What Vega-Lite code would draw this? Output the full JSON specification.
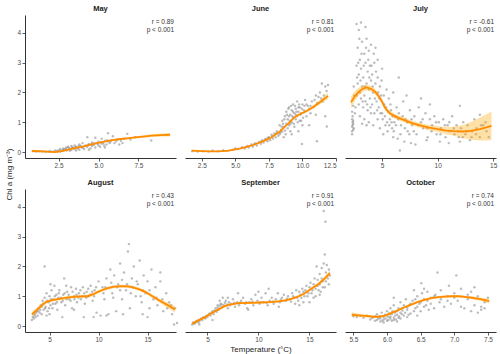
{
"$schema":"https://vega.github.io/schema/vega-lite/v6.json",
"padding":{"left":5,"top":4,"right":3,"bottom":2},
"bounds":"flush",
"columns":3,
"spacing":{"column":9,"row":31},
"config":{"view":{"stroke":null},"font":"Liberation Sans",
"axis":{"grid":false,"domainColor":"#333333","domainWidth":1,"tickColor":"#333333","tickSize":3,"tickWidth":0.8,"labelFontSize":6.5,"labelColor":"#4d4d4d","labelPadding":1.5,"titleFontSize":8,"titleFontWeight":"normal","titleColor":"#222222"},
"title":{"fontSize":7.5,"fontWeight":"bold","color":"#222222","offset":3},
"circle":{"size":6,"color":"#7a7a7a","opacity":0.5},
"line":{"color":"#ff8c00","strokeWidth":1.8},
"area":{"color":"#ffa500","opacity":0.35},
"text":{"fontSize":6.5,"color":"#333333","align":"right","dx":-2}},
"datasets":{
"mayP":[{"x":0.9,"y":0.03},{"x":1.1,"y":0.02},{"x":1.3,"y":0.03},{"x":1.5,"y":0.02},{"x":1.7,"y":0.01},{"x":1.9,"y":0.02},{"x":2.0,"y":0.03},{"x":2.2,"y":0.02},{"x":2.3,"y":0.05},{"x":2.4,"y":0.03},{"x":2.5,"y":0.06},{"x":2.6,"y":0.1},{"x":2.7,"y":0.04},{"x":2.8,"y":0.12},{"x":2.9,"y":0.08},{"x":3.0,"y":0.15},{"x":3.0,"y":0.05},{"x":3.1,"y":0.18},{"x":3.2,"y":0.1},{"x":3.3,"y":0.2},{"x":3.3,"y":0.07},{"x":3.4,"y":0.14},{"x":3.5,"y":0.22},{"x":3.5,"y":0.1},{"x":2.6,"y":0.02},{"x":2.8,"y":0.05},{"x":3.2,"y":0.04},{"x":3.6,"y":0.18},{"x":3.7,"y":0.12},{"x":3.8,"y":0.25},{"x":3.8,"y":0.08},{"x":3.9,"y":0.2},{"x":4.0,"y":0.3},{"x":4.0,"y":0.14},{"x":4.1,"y":0.1},{"x":4.2,"y":0.22},{"x":4.3,"y":0.5},{"x":4.3,"y":0.17},{"x":4.4,"y":0.27},{"x":4.5,"y":0.12},{"x":4.6,"y":0.32},{"x":4.6,"y":0.2},{"x":4.7,"y":0.24},{"x":4.8,"y":0.48},{"x":4.8,"y":0.15},{"x":4.9,"y":0.3},{"x":5.0,"y":0.22},{"x":5.0,"y":0.35},{"x":5.1,"y":0.18},{"x":5.2,"y":0.28},{"x":5.2,"y":0.45},{"x":5.3,"y":0.3},{"x":5.4,"y":0.38},{"x":5.5,"y":0.25},{"x":5.6,"y":0.63},{"x":5.6,"y":0.35},{"x":5.7,"y":0.3},{"x":5.8,"y":0.4},{"x":5.9,"y":0.53},{"x":6.0,"y":0.3},{"x":6.1,"y":0.36},{"x":6.2,"y":0.42},{"x":6.3,"y":0.25},{"x":6.4,"y":0.38},{"x":6.6,"y":0.45},{"x":6.8,"y":0.61},{"x":7.0,"y":0.42},{"x":8.3,"y":0.39},{"x":3.6,"y":0.05},{"x":4.4,"y":0.08},{"x":5.4,"y":0.15},{"x":2.75,"y":0.08},{"x":2.95,"y":0.12},{"x":3.15,"y":0.14},{"x":3.35,"y":0.16},{"x":3.55,"y":0.15},{"x":3.75,"y":0.2},{"x":3.95,"y":0.16},{"x":4.15,"y":0.2},{"x":4.35,"y":0.24},{"x":4.55,"y":0.26},{"x":4.75,"y":0.3},{"x":4.95,"y":0.28},{"x":5.15,"y":0.33},{"x":5.35,"y":0.22},{"x":5.55,"y":0.4},{"x":5.75,"y":0.35},{"x":6.5,"y":0.3},{"x":7.3,"y":0.5}],
"mayF":[{"x":0.83,"y":0.035,"lo":0.0,"hi":0.075},{"x":1.5,"y":0.02,"lo":-0.01,"hi":0.05},{"x":2.28,"y":0.0,"lo":-0.025,"hi":0.025},{"x":2.7,"y":0.03,"lo":0.005,"hi":0.055},{"x":3.11,"y":0.08,"lo":0.06,"hi":0.1},{"x":3.6,"y":0.14,"lo":0.12,"hi":0.16},{"x":4.15,"y":0.2,"lo":0.18,"hi":0.22},{"x":4.7,"y":0.27,"lo":0.25,"hi":0.29},{"x":5.2,"y":0.33,"lo":0.31,"hi":0.35},{"x":5.7,"y":0.38,"lo":0.355,"hi":0.405},{"x":6.24,"y":0.43,"lo":0.4,"hi":0.46},{"x":6.8,"y":0.46,"lo":0.43,"hi":0.49},{"x":7.29,"y":0.49,"lo":0.455,"hi":0.525},{"x":7.8,"y":0.52,"lo":0.48,"hi":0.56},{"x":8.33,"y":0.55,"lo":0.505,"hi":0.595},{"x":8.9,"y":0.57,"lo":0.52,"hi":0.62},{"x":9.48,"y":0.58,"lo":0.52,"hi":0.64}],
"junP":[{"x":1.8,"y":0.03},{"x":2.2,"y":0.02},{"x":2.6,"y":0.03},{"x":3.0,"y":0.02},{"x":3.3,"y":0.05},{"x":3.7,"y":0.03},{"x":4.1,"y":0.06},{"x":4.4,"y":0.04},{"x":4.8,"y":0.08},{"x":5.0,"y":0.13},{"x":5.2,"y":0.1},{"x":5.5,"y":0.16},{"x":5.7,"y":0.12},{"x":5.9,"y":0.2},{"x":6.0,"y":0.15},{"x":6.2,"y":0.25},{"x":6.3,"y":0.18},{"x":6.5,"y":0.3},{"x":6.6,"y":0.22},{"x":6.8,"y":0.35},{"x":6.9,"y":0.28},{"x":7.0,"y":0.4},{"x":7.1,"y":0.32},{"x":7.3,"y":0.45},{"x":7.4,"y":0.36},{"x":7.5,"y":0.5},{"x":7.6,"y":0.4},{"x":7.7,"y":0.58},{"x":7.8,"y":0.45},{"x":7.9,"y":0.62},{"x":8.0,"y":0.5},{"x":8.1,"y":0.7},{"x":8.2,"y":0.55},{"x":8.3,"y":0.9},{"x":8.3,"y":0.6},{"x":8.4,"y":0.75},{"x":8.5,"y":1.05},{"x":8.5,"y":0.68},{"x":8.6,"y":0.85},{"x":8.7,"y":1.2},{"x":8.7,"y":0.72},{"x":8.8,"y":0.95},{"x":8.8,"y":1.35},{"x":8.9,"y":0.8},{"x":8.9,"y":1.1},{"x":9.0,"y":1.5},{"x":9.0,"y":0.9},{"x":9.1,"y":1.25},{"x":9.1,"y":0.7},{"x":9.2,"y":1.4},{"x":9.2,"y":1.0},{"x":9.3,"y":1.6},{"x":9.3,"y":1.15},{"x":9.4,"y":1.3},{"x":9.4,"y":0.85},{"x":9.5,"y":1.45},{"x":9.5,"y":1.1},{"x":9.6,"y":1.7},{"x":9.6,"y":1.2},{"x":9.7,"y":1.35},{"x":9.8,"y":1.5},{"x":9.8,"y":1.05},{"x":9.9,"y":1.3},{"x":10.0,"y":1.6},{"x":10.0,"y":0.9},{"x":10.1,"y":1.4},{"x":10.2,"y":1.75},{"x":10.3,"y":1.2},{"x":10.4,"y":1.55},{"x":10.5,"y":1.45},{"x":10.6,"y":1.3},{"x":10.7,"y":1.7},{"x":10.8,"y":1.5},{"x":11.0,"y":1.9},{"x":11.1,"y":1.65},{"x":11.3,"y":2.0},{"x":11.4,"y":1.8},{"x":11.45,"y":2.3},{"x":11.6,"y":1.9},{"x":11.7,"y":2.2},{"x":11.9,"y":2.25},{"x":11.8,"y":2.05},{"x":11.0,"y":1.25},{"x":10.5,"y":0.9},{"x":9.96,"y":0.27},{"x":11.08,"y":0.36},{"x":11.82,"y":0.86},{"x":11.7,"y":1.2},{"x":9.2,"y":0.6},{"x":8.6,"y":0.5},{"x":9.7,"y":0.7},{"x":8.55,"y":0.95},{"x":8.65,"y":1.1},{"x":8.75,"y":0.6},{"x":8.85,"y":1.25},{"x":8.95,"y":1.45},{"x":9.05,"y":1.05},{"x":9.15,"y":1.55},{"x":9.25,"y":1.2},{"x":9.35,"y":0.95},{"x":9.45,"y":1.55},{"x":9.55,"y":1.35},{"x":9.65,"y":1.0},{"x":9.75,"y":1.6},{"x":9.85,"y":1.25},{"x":9.95,"y":1.45},{"x":10.05,"y":1.15},{"x":10.15,"y":1.55},{"x":8.45,"y":0.85},{"x":8.35,"y":0.65},{"x":9.0,"y":1.2},{"x":9.1,"y":0.95},{"x":9.3,"y":1.35},{"x":9.5,"y":1.25},{"x":9.7,"y":1.5},{"x":9.9,"y":1.05},{"x":10.3,"y":1.6},{"x":10.6,"y":1.55},{"x":10.9,"y":1.75},{"x":11.2,"y":1.85},{"x":11.5,"y":1.7},{"x":7.2,"y":0.42},{"x":7.45,"y":0.48},{"x":7.75,"y":0.52},{"x":8.05,"y":0.62},{"x":6.4,"y":0.26},{"x":5.8,"y":0.17}],
"junF":[{"x":1.75,"y":0.05,"lo":0.02,"hi":0.08},{"x":2.5,"y":0.03,"lo":0.005,"hi":0.055},{"x":3.0,"y":0.02,"lo":0.0,"hi":0.04},{"x":3.74,"y":0.02,"lo":0.0,"hi":0.04},{"x":4.5,"y":0.05,"lo":0.03,"hi":0.07},{"x":5.23,"y":0.11,"lo":0.09,"hi":0.13},{"x":5.7,"y":0.16,"lo":0.14,"hi":0.18},{"x":6.22,"y":0.22,"lo":0.2,"hi":0.24},{"x":6.7,"y":0.3,"lo":0.28,"hi":0.32},{"x":7.22,"y":0.39,"lo":0.37,"hi":0.41},{"x":7.6,"y":0.47,"lo":0.45,"hi":0.49},{"x":7.97,"y":0.58,"lo":0.555,"hi":0.605},{"x":8.35,"y":0.7,"lo":0.67,"hi":0.73},{"x":8.71,"y":0.86,"lo":0.83,"hi":0.89},{"x":9.0,"y":0.98,"lo":0.95,"hi":1.01},{"x":9.21,"y":1.08,"lo":1.05,"hi":1.11},{"x":9.45,"y":1.18,"lo":1.15,"hi":1.21},{"x":9.71,"y":1.25,"lo":1.22,"hi":1.28},{"x":10.1,"y":1.33,"lo":1.29,"hi":1.37},{"x":10.45,"y":1.41,"lo":1.36,"hi":1.46},{"x":10.8,"y":1.51,"lo":1.45,"hi":1.57},{"x":11.2,"y":1.64,"lo":1.57,"hi":1.71},{"x":11.55,"y":1.76,"lo":1.67,"hi":1.85},{"x":11.9,"y":1.88,"lo":1.77,"hi":1.99}],
"julP":[{"x":2.3,"y":0.7},{"x":2.3,"y":0.85},{"x":2.35,"y":1.0},{"x":2.3,"y":1.1},{"x":2.4,"y":0.75},{"x":2.4,"y":0.95},{"x":2.35,"y":1.2},{"x":2.45,"y":0.8},{"x":2.3,"y":1.35},{"x":2.4,"y":1.55},{"x":2.5,"y":1.9},{"x":2.45,"y":2.2},{"x":2.7,"y":4.3},{"x":2.9,"y":4.1},{"x":3.1,"y":4.35},{"x":3.5,"y":4.2},{"x":2.8,"y":3.5},{"x":3.0,"y":3.1},{"x":3.2,"y":3.7},{"x":3.4,"y":3.3},{"x":3.6,"y":3.8},{"x":3.8,"y":3.4},{"x":4.0,"y":3.6},{"x":2.7,"y":2.9},{"x":2.9,"y":2.6},{"x":3.1,"y":2.8},{"x":3.3,"y":2.5},{"x":3.5,"y":3.0},{"x":3.7,"y":2.7},{"x":3.9,"y":2.9},{"x":4.1,"y":2.6},{"x":4.3,"y":3.0},{"x":4.6,"y":3.1},{"x":2.8,"y":2.3},{"x":3.0,"y":2.0},{"x":3.2,"y":2.2},{"x":3.4,"y":1.9},{"x":3.6,"y":2.3},{"x":3.8,"y":2.1},{"x":4.0,"y":2.4},{"x":4.2,"y":2.0},{"x":4.4,"y":2.3},{"x":4.6,"y":2.5},{"x":4.8,"y":2.2},{"x":2.9,"y":1.6},{"x":3.1,"y":1.8},{"x":3.3,"y":1.5},{"x":3.5,"y":1.7},{"x":3.7,"y":1.4},{"x":3.9,"y":1.8},{"x":4.1,"y":1.6},{"x":4.3,"y":1.3},{"x":4.5,"y":1.7},{"x":4.7,"y":1.5},{"x":4.9,"y":1.9},{"x":3.0,"y":1.2},{"x":3.4,"y":1.1},{"x":3.8,"y":1.0},{"x":4.2,"y":0.9},{"x":4.6,"y":1.1},{"x":5.0,"y":1.3},{"x":5.2,"y":1.6},{"x":5.4,"y":2.1},{"x":5.6,"y":1.8},{"x":5.8,"y":1.4},{"x":6.0,"y":2.0},{"x":6.2,"y":1.2},{"x":5.3,"y":0.9},{"x":5.5,"y":0.7},{"x":5.7,"y":1.1},{"x":5.9,"y":0.8},{"x":6.1,"y":1.0},{"x":6.3,"y":1.5},{"x":6.5,"y":1.3},{"x":6.7,"y":0.9},{"x":6.9,"y":1.7},{"x":7.1,"y":1.1},{"x":7.3,"y":0.7},{"x":7.5,"y":1.4},{"x":7.7,"y":0.9},{"x":7.9,"y":1.2},{"x":8.1,"y":0.6},{"x":8.3,"y":1.5},{"x":8.5,"y":1.0},{"x":8.7,"y":0.8},{"x":8.9,"y":1.3},{"x":9.1,"y":0.5},{"x":9.3,"y":1.1},{"x":9.5,"y":0.9},{"x":9.7,"y":1.2},{"x":9.9,"y":0.6},{"x":10.1,"y":1.0},{"x":10.3,"y":0.8},{"x":10.5,"y":1.1},{"x":10.7,"y":0.5},{"x":10.9,"y":0.9},{"x":11.1,"y":0.7},{"x":11.3,"y":1.2},{"x":11.5,"y":0.6},{"x":11.7,"y":0.9},{"x":11.9,"y":0.5},{"x":12.1,"y":0.8},{"x":12.3,"y":1.0},{"x":12.5,"y":0.6},{"x":12.7,"y":0.9},{"x":12.9,"y":0.4},{"x":13.1,"y":0.7},{"x":13.3,"y":1.1},{"x":13.5,"y":0.8},{"x":13.8,"y":0.5},{"x":14.1,"y":0.9},{"x":14.4,"y":0.7},{"x":6.4,"y":0.45},{"x":7.0,"y":0.35},{"x":7.6,"y":0.3},{"x":6.6,"y":0.05},{"x":8.0,"y":0.25},{"x":9.0,"y":0.4},{"x":10.2,"y":0.35},{"x":11.0,"y":0.3},{"x":12.0,"y":0.35},{"x":6.5,"y":2.5},{"x":7.2,"y":1.9},{"x":5.0,"y":2.8},{"x":4.4,"y":3.5},{"x":8.5,"y":1.8},{"x":9.3,"y":1.6},{"x":12.0,"y":1.55},{"x":13.8,"y":1.25},{"x":3.6,"y":0.9},{"x":4.0,"y":1.3},{"x":5.1,"y":0.6},{"x":2.6,"y":1.5},{"x":2.7,"y":1.9},{"x":2.75,"y":2.5},{"x":2.85,"y":3.0},{"x":2.95,"y":3.8},{"x":3.05,"y":2.4},{"x":3.15,"y":3.3},{"x":3.25,"y":1.7},{"x":3.35,"y":2.9},{"x":3.45,"y":2.2},{"x":3.55,"y":3.5},{"x":3.65,"y":1.6},{"x":3.75,"y":3.1},{"x":3.85,"y":2.5},{"x":3.95,"y":1.5},{"x":4.05,"y":2.9},{"x":4.15,"y":2.2},{"x":4.25,"y":3.3},{"x":4.35,"y":1.8},{"x":4.45,"y":2.7},{"x":4.55,"y":1.4},{"x":4.65,"y":2.0},{"x":4.75,"y":1.8},{"x":4.85,"y":1.3},{"x":4.95,"y":2.4},{"x":5.05,"y":1.1},{"x":5.15,"y":1.9},{"x":5.25,"y":1.2},{"x":5.35,"y":1.5},{"x":5.45,"y":1.0},{"x":5.55,"y":1.35},{"x":5.65,"y":0.9},{"x":5.75,"y":1.6},{"x":5.85,"y":1.0},{"x":5.95,"y":1.2},{"x":6.05,"y":0.7},{"x":6.25,"y":0.9},{"x":6.45,"y":1.1},{"x":6.65,"y":0.6},{"x":6.85,"y":1.2},{"x":7.05,"y":0.8},{"x":7.25,"y":1.0},{"x":7.45,"y":0.6},{"x":7.65,"y":1.1},{"x":7.85,"y":0.7},{"x":8.25,"y":0.9},{"x":8.65,"y":1.1},{"x":9.05,"y":0.8},{"x":9.45,"y":0.7},{"x":9.85,"y":1.0},{"x":10.25,"y":0.6},{"x":10.65,"y":0.9},{"x":11.05,"y":1.0},{"x":11.45,"y":0.8},{"x":11.85,"y":0.7},{"x":12.25,"y":0.5},{"x":12.65,"y":0.7},{"x":13.05,"y":0.5},{"x":13.45,"y":0.6},{"x":13.9,"y":0.9},{"x":14.3,"y":1.0},{"x":14.6,"y":0.5},{"x":2.35,"y":0.9},{"x":2.4,"y":1.05},{"x":2.3,"y":0.6},{"x":2.55,"y":1.3},{"x":3.2,"y":0.95},{"x":4.8,"y":0.8},{"x":6.0,"y":0.5}],
"julF":[{"x":2.2,"y":1.67,"lo":1.47,"hi":1.87},{"x":2.5,"y":1.85,"lo":1.68,"hi":2.02},{"x":2.9,"y":2.03,"lo":1.9,"hi":2.16},{"x":3.3,"y":2.13,"lo":2.02,"hi":2.24},{"x":3.63,"y":2.17,"lo":2.07,"hi":2.27},{"x":4.0,"y":2.12,"lo":2.02,"hi":2.22},{"x":4.39,"y":2.02,"lo":1.92,"hi":2.12},{"x":4.7,"y":1.87,"lo":1.78,"hi":1.96},{"x":5.0,"y":1.69,"lo":1.6,"hi":1.78},{"x":5.2,"y":1.53,"lo":1.45,"hi":1.61},{"x":5.36,"y":1.44,"lo":1.36,"hi":1.52},{"x":5.7,"y":1.3,"lo":1.22,"hi":1.38},{"x":6.2,"y":1.19,"lo":1.11,"hi":1.27},{"x":7.0,"y":1.07,"lo":0.99,"hi":1.15},{"x":7.7,"y":0.97,"lo":0.89,"hi":1.05},{"x":8.5,"y":0.89,"lo":0.81,"hi":0.97},{"x":9.24,"y":0.82,"lo":0.73,"hi":0.91},{"x":10.0,"y":0.77,"lo":0.67,"hi":0.87},{"x":10.75,"y":0.72,"lo":0.6,"hi":0.84},{"x":11.5,"y":0.7,"lo":0.55,"hi":0.85},{"x":12.27,"y":0.69,"lo":0.47,"hi":0.91},{"x":13.0,"y":0.71,"lo":0.41,"hi":1.01},{"x":13.78,"y":0.77,"lo":0.39,"hi":1.15},{"x":14.3,"y":0.82,"lo":0.39,"hi":1.25},{"x":14.84,"y":0.88,"lo":0.4,"hi":1.36}],
"augP":[{"x":3.2,"y":0.2},{"x":3.3,"y":0.3},{"x":3.4,"y":0.25},{"x":3.5,"y":0.4},{"x":3.6,"y":0.3},{"x":3.7,"y":0.5},{"x":3.8,"y":0.35},{"x":3.9,"y":0.6},{"x":4.0,"y":0.45},{"x":4.1,"y":0.7},{"x":4.2,"y":0.4},{"x":4.3,"y":0.85},{"x":4.4,"y":0.55},{"x":4.5,"y":0.95},{"x":4.5,"y":2.0},{"x":4.6,"y":0.65},{"x":4.7,"y":1.1},{"x":4.8,"y":0.5},{"x":4.9,"y":0.8},{"x":5.0,"y":1.0},{"x":5.1,"y":0.7},{"x":5.2,"y":1.2},{"x":5.3,"y":0.6},{"x":5.4,"y":0.9},{"x":5.5,"y":1.35},{"x":5.6,"y":0.75},{"x":5.7,"y":1.05},{"x":5.8,"y":0.55},{"x":5.9,"y":0.95},{"x":6.0,"y":1.2},{"x":6.2,"y":0.8},{"x":6.4,"y":1.05},{"x":6.5,"y":1.6},{"x":6.6,"y":0.7},{"x":6.8,"y":1.15},{"x":7.0,"y":0.9},{"x":7.2,"y":1.3},{"x":7.3,"y":0.6},{"x":7.5,"y":1.0},{"x":7.7,"y":1.25},{"x":7.8,"y":0.8},{"x":8.0,"y":1.1},{"x":8.2,"y":0.9},{"x":8.4,"y":1.3},{"x":8.6,"y":0.75},{"x":8.8,"y":1.15},{"x":9.0,"y":1.0},{"x":9.2,"y":1.35},{"x":9.4,"y":0.85},{"x":9.6,"y":1.2},{"x":9.8,"y":0.45},{"x":10.0,"y":1.5},{"x":10.2,"y":0.35},{"x":10.4,"y":1.3},{"x":10.6,"y":0.9},{"x":10.8,"y":1.6},{"x":11.0,"y":0.4},{"x":11.2,"y":1.9},{"x":11.4,"y":1.1},{"x":11.6,"y":1.7},{"x":11.8,"y":0.5},{"x":12.0,"y":1.4},{"x":12.2,"y":2.1},{"x":12.4,"y":0.9},{"x":12.6,"y":1.8},{"x":12.8,"y":1.2},{"x":13.0,"y":2.5},{"x":13.1,"y":2.75},{"x":13.2,"y":0.6},{"x":13.4,"y":1.6},{"x":13.6,"y":2.0},{"x":13.8,"y":1.0},{"x":14.0,"y":1.4},{"x":14.2,"y":2.2},{"x":14.4,"y":0.8},{"x":14.6,"y":1.7},{"x":14.8,"y":1.1},{"x":15.0,"y":1.5},{"x":15.2,"y":0.6},{"x":15.4,"y":1.9},{"x":15.6,"y":0.9},{"x":15.8,"y":1.3},{"x":16.0,"y":0.7},{"x":16.3,"y":1.5},{"x":16.6,"y":0.5},{"x":16.9,"y":1.1},{"x":17.2,"y":0.8},{"x":17.5,"y":0.4},{"x":17.8,"y":0.6},{"x":18.0,"y":0.1},{"x":17.7,"y":0.05},{"x":9.5,"y":0.3},{"x":8.5,"y":0.3},{"x":10.8,"y":0.35},{"x":12.5,"y":0.4},{"x":14.5,"y":0.4},{"x":6.3,"y":0.3},{"x":4.7,"y":0.35},{"x":5.0,"y":0.4},{"x":7.5,"y":0.55},{"x":15.0,"y":0.3},{"x":16.3,"y":1.8},{"x":11.5,"y":0.95},{"x":12.2,"y":1.2},{"x":13.5,"y":1.3},{"x":14.5,"y":1.2},{"x":10.5,"y":1.1},{"x":4.2,"y":0.65},{"x":4.35,"y":0.75},{"x":4.55,"y":0.6},{"x":4.75,"y":0.85},{"x":4.95,"y":0.6},{"x":5.15,"y":0.9},{"x":5.35,"y":0.75},{"x":5.55,"y":1.0},{"x":5.75,"y":0.8},{"x":5.95,"y":1.1},{"x":6.15,"y":0.95},{"x":6.35,"y":0.85},{"x":6.55,"y":1.1},{"x":6.75,"y":0.9},{"x":6.95,"y":1.05},{"x":7.15,"y":0.85},{"x":7.35,"y":1.15},{"x":7.55,"y":0.9},{"x":7.75,"y":1.05},{"x":7.95,"y":0.95},{"x":8.15,"y":1.2},{"x":8.35,"y":1.0},{"x":8.55,"y":1.1},{"x":8.75,"y":0.95},{"x":8.95,"y":1.25},{"x":9.15,"y":1.05},{"x":9.35,"y":1.15},{"x":9.55,"y":1.0},{"x":9.75,"y":1.3},{"x":3.45,"y":0.35},{"x":3.65,"y":0.45},{"x":3.85,"y":0.5},{"x":4.05,"y":0.55},{"x":10.7,"y":1.3},{"x":11.3,"y":1.45},{"x":11.9,"y":1.3},{"x":12.4,"y":1.55},{"x":12.9,"y":1.4},{"x":13.3,"y":1.1},{"x":13.9,"y":1.5},{"x":14.3,"y":1.0},{"x":15.2,"y":1.2},{"x":15.9,"y":0.95},{"x":16.5,"y":0.9},{"x":17.0,"y":0.6},{"x":17.4,"y":0.7},{"x":5.1,"y":1.4},{"x":6.7,"y":1.35}],
"augF":[{"x":3.2,"y":0.39,"lo":0.3,"hi":0.48},{"x":3.9,"y":0.6,"lo":0.53,"hi":0.67},{"x":4.6,"y":0.8,"lo":0.74,"hi":0.86},{"x":5.3,"y":0.87,"lo":0.82,"hi":0.92},{"x":6.02,"y":0.91,"lo":0.86,"hi":0.96},{"x":6.9,"y":0.96,"lo":0.91,"hi":1.01},{"x":7.78,"y":0.99,"lo":0.94,"hi":1.04},{"x":8.84,"y":1.0,"lo":0.95,"hi":1.05},{"x":9.4,"y":1.06,"lo":1.01,"hi":1.11},{"x":9.9,"y":1.14,"lo":1.09,"hi":1.19},{"x":10.4,"y":1.21,"lo":1.16,"hi":1.26},{"x":10.95,"y":1.27,"lo":1.22,"hi":1.32},{"x":11.6,"y":1.32,"lo":1.27,"hi":1.37},{"x":12.36,"y":1.34,"lo":1.29,"hi":1.39},{"x":13.0,"y":1.33,"lo":1.28,"hi":1.38},{"x":13.4,"y":1.31,"lo":1.26,"hi":1.36},{"x":14.1,"y":1.24,"lo":1.19,"hi":1.29},{"x":14.8,"y":1.14,"lo":1.08,"hi":1.2},{"x":15.5,"y":1.0,"lo":0.94,"hi":1.06},{"x":16.2,"y":0.86,"lo":0.79,"hi":0.93},{"x":17.0,"y":0.71,"lo":0.62,"hi":0.8},{"x":17.8,"y":0.56,"lo":0.45,"hi":0.67}],
"sepP":[{"x":3.5,"y":0.05},{"x":3.6,"y":0.12},{"x":3.8,"y":0.1},{"x":4.0,"y":0.18},{"x":4.1,"y":0.12},{"x":4.3,"y":0.22},{"x":4.5,"y":0.2},{"x":4.6,"y":0.3},{"x":4.8,"y":0.25},{"x":4.9,"y":0.35},{"x":5.0,"y":0.3},{"x":5.2,"y":0.42},{"x":5.3,"y":0.35},{"x":5.5,"y":0.5},{"x":5.6,"y":0.4},{"x":5.8,"y":0.6},{"x":5.9,"y":0.48},{"x":6.0,"y":0.7},{"x":6.1,"y":0.55},{"x":6.3,"y":0.75},{"x":6.4,"y":0.62},{"x":6.5,"y":0.95},{"x":6.6,"y":0.7},{"x":6.8,"y":0.85},{"x":7.0,"y":0.6},{"x":7.1,"y":0.8},{"x":7.3,"y":0.75},{"x":7.5,"y":0.9},{"x":7.7,"y":0.65},{"x":7.9,"y":0.8},{"x":8.1,"y":0.7},{"x":8.3,"y":0.85},{"x":8.5,"y":0.95},{"x":8.7,"y":0.75},{"x":8.9,"y":0.6},{"x":9.1,"y":0.8},{"x":9.3,"y":0.9},{"x":9.5,"y":0.7},{"x":9.7,"y":1.05},{"x":9.9,"y":0.85},{"x":10.1,"y":0.75},{"x":10.3,"y":0.95},{"x":10.5,"y":0.8},{"x":10.7,"y":1.1},{"x":10.9,"y":0.7},{"x":11.1,"y":0.85},{"x":11.3,"y":0.95},{"x":11.5,"y":0.75},{"x":11.7,"y":0.9},{"x":11.9,"y":1.1},{"x":12.1,"y":0.8},{"x":12.3,"y":0.95},{"x":12.5,"y":1.05},{"x":12.7,"y":0.85},{"x":12.9,"y":1.0},{"x":13.1,"y":0.9},{"x":13.3,"y":1.1},{"x":13.5,"y":0.95},{"x":13.7,"y":1.2},{"x":13.9,"y":0.85},{"x":14.1,"y":1.05},{"x":14.3,"y":1.25},{"x":14.5,"y":1.0},{"x":14.7,"y":1.35},{"x":14.9,"y":1.1},{"x":15.1,"y":1.45},{"x":15.3,"y":1.2},{"x":15.5,"y":1.6},{"x":15.6,"y":1.0},{"x":15.8,"y":1.35},{"x":16.0,"y":1.75},{"x":16.1,"y":1.15},{"x":16.3,"y":1.5},{"x":16.4,"y":2.1},{"x":16.5,"y":2.4},{"x":16.5,"y":1.3},{"x":16.6,"y":1.8},{"x":16.57,"y":3.5},{"x":16.4,"y":3.86},{"x":16.8,"y":1.6},{"x":16.9,"y":1.4},{"x":17.0,"y":1.7},{"x":5.5,"y":0.2},{"x":7.0,"y":0.95},{"x":8.0,"y":1.1},{"x":9.0,"y":0.55},{"x":12.0,"y":0.65},{"x":15.0,"y":0.8},{"x":4.2,"y":0.05},{"x":6.2,"y":0.85},{"x":10.0,"y":1.15},{"x":14.0,"y":0.7},{"x":15.7,"y":2.0},{"x":16.2,"y":1.95},{"x":13.6,"y":0.75},{"x":11.0,"y":1.25},{"x":3.7,"y":0.08},{"x":3.9,"y":0.15},{"x":4.2,"y":0.16},{"x":4.4,"y":0.25},{"x":4.7,"y":0.28},{"x":5.1,"y":0.38},{"x":5.4,"y":0.45},{"x":5.7,"y":0.52},{"x":6.0,"y":0.62},{"x":6.2,"y":0.68},{"x":6.4,"y":0.72},{"x":6.7,"y":0.78},{"x":6.9,"y":0.72},{"x":7.2,"y":0.7},{"x":7.6,"y":0.78},{"x":8.2,"y":0.78},{"x":8.8,"y":0.8},{"x":9.4,"y":0.82},{"x":10.2,"y":0.8},{"x":10.8,"y":0.78},{"x":11.4,"y":0.82},{"x":12.2,"y":0.88},{"x":12.8,"y":0.92},{"x":13.2,"y":0.82},{"x":13.4,"y":1.0},{"x":13.8,"y":0.95},{"x":14.0,"y":1.15},{"x":14.2,"y":0.95},{"x":14.4,"y":1.15},{"x":14.6,"y":1.2},{"x":14.8,"y":1.0},{"x":15.0,"y":1.3},{"x":15.2,"y":1.1},{"x":15.4,"y":1.4},{"x":15.6,"y":1.25},{"x":15.8,"y":1.55},{"x":15.9,"y":1.2},{"x":16.0,"y":1.4},{"x":16.2,"y":1.6},{"x":16.3,"y":1.3},{"x":16.6,"y":1.5},{"x":16.7,"y":2.05},{"x":16.9,"y":1.9},{"x":15.4,"y":0.95},{"x":14.4,"y":0.8},{"x":16.0,"y":1.05}],
"sepF":[{"x":3.52,"y":0.08,"lo":0.03,"hi":0.13},{"x":4.1,"y":0.19,"lo":0.15,"hi":0.23},{"x":4.77,"y":0.3,"lo":0.26,"hi":0.34},{"x":5.4,"y":0.43,"lo":0.39,"hi":0.47},{"x":6.08,"y":0.56,"lo":0.52,"hi":0.6},{"x":6.6,"y":0.65,"lo":0.61,"hi":0.69},{"x":7.06,"y":0.71,"lo":0.67,"hi":0.75},{"x":8.05,"y":0.77,"lo":0.73,"hi":0.81},{"x":9.36,"y":0.78,"lo":0.74,"hi":0.82},{"x":11.0,"y":0.8,"lo":0.76,"hi":0.84},{"x":12.0,"y":0.83,"lo":0.79,"hi":0.87},{"x":12.64,"y":0.86,"lo":0.82,"hi":0.9},{"x":13.3,"y":0.92,"lo":0.88,"hi":0.96},{"x":13.95,"y":1.0,"lo":0.96,"hi":1.04},{"x":14.5,"y":1.09,"lo":1.05,"hi":1.13},{"x":14.93,"y":1.19,"lo":1.15,"hi":1.23},{"x":15.4,"y":1.3,"lo":1.25,"hi":1.35},{"x":15.9,"y":1.41,"lo":1.35,"hi":1.47},{"x":16.5,"y":1.6,"lo":1.53,"hi":1.67},{"x":17.0,"y":1.78,"lo":1.69,"hi":1.87}],
"octP":[{"x":5.5,"y":0.33},{"x":5.55,"y":0.3},{"x":5.65,"y":0.28},{"x":5.7,"y":0.35},{"x":5.75,"y":0.22},{"x":5.8,"y":0.3},{"x":5.82,"y":0.18},{"x":5.85,"y":0.4},{"x":5.87,"y":0.25},{"x":5.9,"y":0.15},{"x":5.9,"y":0.32},{"x":5.92,"y":0.45},{"x":5.95,"y":0.22},{"x":5.97,"y":0.38},{"x":6.0,"y":0.18},{"x":6.0,"y":0.5},{"x":6.02,"y":0.3},{"x":6.05,"y":0.25},{"x":6.05,"y":0.6},{"x":6.07,"y":0.4},{"x":6.1,"y":0.2},{"x":6.1,"y":0.7},{"x":6.12,"y":0.35},{"x":6.15,"y":0.5},{"x":6.17,"y":0.28},{"x":6.2,"y":0.8},{"x":6.2,"y":0.45},{"x":6.22,"y":0.6},{"x":6.25,"y":0.35},{"x":6.28,"y":0.9},{"x":6.3,"y":0.55},{"x":6.33,"y":0.7},{"x":6.35,"y":0.42},{"x":6.38,"y":0.85},{"x":6.4,"y":1.2},{"x":6.42,"y":0.6},{"x":6.45,"y":1.0},{"x":6.48,"y":0.75},{"x":6.5,"y":0.5},{"x":6.51,"y":1.44},{"x":6.52,"y":1.1},{"x":6.55,"y":0.9},{"x":6.58,"y":0.7},{"x":6.6,"y":1.15},{"x":6.62,"y":0.55},{"x":6.65,"y":0.95},{"x":6.7,"y":0.6},{"x":6.72,"y":1.05},{"x":6.75,"y":1.8},{"x":6.78,"y":0.8},{"x":6.8,"y":1.2},{"x":6.85,"y":0.65},{"x":6.9,"y":1.0},{"x":6.92,"y":1.35},{"x":6.95,"y":0.75},{"x":7.0,"y":1.1},{"x":7.03,"y":1.7},{"x":7.05,"y":0.85},{"x":7.1,"y":1.25},{"x":7.15,"y":0.6},{"x":7.2,"y":0.9},{"x":7.25,"y":1.15},{"x":7.3,"y":0.7},{"x":7.35,"y":1.0},{"x":7.4,"y":0.55},{"x":7.45,"y":0.8},{"x":7.5,"y":0.95},{"x":7.3,"y":1.3},{"x":7.1,"y":0.65},{"x":6.3,"y":0.3},{"x":6.15,"y":0.15},{"x":5.95,"y":0.12},{"x":6.45,"y":0.35},{"x":6.1,"y":0.95},{"x":6.55,"y":1.25},{"x":7.4,"y":0.65},{"x":5.85,"y":0.2},{"x":5.88,"y":0.32},{"x":5.9,"y":0.25},{"x":5.93,"y":0.18},{"x":5.95,"y":0.3},{"x":5.98,"y":0.25},{"x":6.0,"y":0.35},{"x":6.02,"y":0.2},{"x":6.03,"y":0.42},{"x":6.05,"y":0.32},{"x":6.07,"y":0.18},{"x":6.08,"y":0.5},{"x":6.1,"y":0.28},{"x":6.12,"y":0.45},{"x":6.13,"y":0.22},{"x":6.15,"y":0.38},{"x":6.17,"y":0.6},{"x":6.18,"y":0.32},{"x":6.2,"y":0.25},{"x":6.22,"y":0.4},{"x":6.23,"y":0.52},{"x":6.25,"y":0.7},{"x":6.27,"y":0.45},{"x":6.3,"y":0.62},{"x":6.32,"y":0.38},{"x":6.35,"y":0.75},{"x":6.4,"y":0.5},{"x":6.42,"y":0.9},{"x":6.45,"y":0.65},{"x":6.5,"y":0.8},{"x":6.55,"y":0.65},{"x":6.6,"y":0.85},{"x":6.65,"y":0.75},{"x":6.7,"y":1.0},{"x":6.8,"y":0.9},{"x":6.9,"y":0.85},{"x":7.0,"y":0.95},{"x":7.2,"y":1.05},{"x":7.35,"y":0.45},{"x":7.25,"y":0.5},{"x":7.45,"y":0.6},{"x":5.6,"y":0.35},{"x":5.78,"y":0.27},{"x":5.83,"y":0.33}],
"octF":[{"x":5.475,"y":0.38,"lo":0.3,"hi":0.46},{"x":5.57,"y":0.36,"lo":0.3,"hi":0.42},{"x":5.67,"y":0.34,"lo":0.29,"hi":0.39},{"x":5.77,"y":0.32,"lo":0.28,"hi":0.36},{"x":5.87,"y":0.31,"lo":0.27,"hi":0.35},{"x":5.97,"y":0.35,"lo":0.31,"hi":0.39},{"x":6.07,"y":0.44,"lo":0.4,"hi":0.48},{"x":6.17,"y":0.54,"lo":0.5,"hi":0.58},{"x":6.27,"y":0.64,"lo":0.6,"hi":0.68},{"x":6.37,"y":0.73,"lo":0.69,"hi":0.77},{"x":6.47,"y":0.82,"lo":0.78,"hi":0.86},{"x":6.57,"y":0.89,"lo":0.85,"hi":0.93},{"x":6.665,"y":0.94,"lo":0.9,"hi":0.98},{"x":6.76,"y":0.97,"lo":0.93,"hi":1.01},{"x":6.86,"y":0.99,"lo":0.95,"hi":1.03},{"x":6.96,"y":1.0,"lo":0.96,"hi":1.04},{"x":7.06,"y":1.0,"lo":0.96,"hi":1.04},{"x":7.16,"y":0.98,"lo":0.94,"hi":1.02},{"x":7.26,"y":0.95,"lo":0.9,"hi":1.0},{"x":7.39,"y":0.9,"lo":0.84,"hi":0.96},{"x":7.52,"y":0.84,"lo":0.76,"hi":0.92}]
},
"concat":[
{"width":151,"height":143,"title":"May",
 "encoding":{"x":{"field":"x","type":"quantitative","scale":{"domain":[0.4,9.85],"nice":false,"zero":false},"axis":{"values":[2.5,5,7.5],"format":".1f","title":null}},"y":{"field":"y","type":"quantitative","scale":{"domain":[-0.2,4.6],"nice":false,"zero":false},"axis":{"values":[0,1,2,3,4],"title":"Chl a  (mg m⁻³)","titleY":159,"titlePadding":3}}},
 "layer":[
 {"data":{"name":"mayP"},"mark":"circle"},
 {"data":{"name":"mayF"},"mark":"area","encoding":{"y":{"field":"lo","type":"quantitative","axis":{"values":[0,1,2,3,4],"title":"Chl a  (mg m⁻³)","titleY":159,"titlePadding":3}},"y2":{"field":"hi"}}},
 {"data":{"name":"mayF"},"mark":"line"},
 {"data":{"values":[{"x":9.85,"y":4.38,"t":"r = 0.89"},{"x":9.85,"y":4.08,"t":"p < 0.001"}]},"mark":"text","encoding":{"text":{"field":"t"}}}
]},
{"width":151,"height":143,"title":"June",
 "encoding":{"x":{"field":"x","type":"quantitative","scale":{"domain":[1.25,12.5],"nice":false,"zero":false},"axis":{"values":[2.5,5,7.5,10,12.5],"format":".1f","title":null}},"y":{"field":"y","type":"quantitative","scale":{"domain":[-0.2,4.6],"nice":false,"zero":false},"axis":null}},
 "layer":[
 {"data":{"name":"junP"},"mark":"circle"},
 {"data":{"name":"junF"},"mark":"area","encoding":{"y":{"field":"lo","type":"quantitative","axis":null},"y2":{"field":"hi"}}},
 {"data":{"name":"junF"},"mark":"line"},
 {"data":{"values":[{"x":12.5,"y":4.38,"t":"r = 0.81"},{"x":12.5,"y":4.08,"t":"p < 0.001"}]},"mark":"text","encoding":{"text":{"field":"t"}}}
]},
{"width":151,"height":143,"title":"July",
 "encoding":{"x":{"field":"x","type":"quantitative","scale":{"domain":[1.66,15.25],"nice":false,"zero":false},"axis":{"values":[5,10,15],"title":null}},"y":{"field":"y","type":"quantitative","scale":{"domain":[-0.2,4.6],"nice":false,"zero":false},"axis":null}},
 "layer":[
 {"data":{"name":"julP"},"mark":"circle"},
 {"data":{"name":"julF"},"mark":"area","encoding":{"y":{"field":"lo","type":"quantitative","axis":null},"y2":{"field":"hi"}}},
 {"data":{"name":"julF"},"mark":"line"},
 {"data":{"values":[{"x":15.25,"y":4.38,"t":"r = -0.61"},{"x":15.25,"y":4.08,"t":"p < 0.001"}]},"mark":"text","encoding":{"text":{"field":"t"}}}
]},
{"width":151,"height":143,"title":"August",
 "encoding":{"x":{"field":"x","type":"quantitative","scale":{"domain":[2.5,17.9],"nice":false,"zero":false},"axis":{"values":[5,10,15],"title":null}},"y":{"field":"y","type":"quantitative","scale":{"domain":[-0.2,4.6],"nice":false,"zero":false},"axis":{"values":[0,1,2,3,4],"title":null}}},
 "layer":[
 {"data":{"name":"augP"},"mark":"circle"},
 {"data":{"name":"augF"},"mark":"area","encoding":{"y":{"field":"lo","type":"quantitative","axis":{"values":[0,1,2,3,4],"title":null}},"y2":{"field":"hi"}}},
 {"data":{"name":"augF"},"mark":"line"},
 {"data":{"values":[{"x":17.9,"y":4.38,"t":"r = 0.43"},{"x":17.9,"y":4.08,"t":"p < 0.001"}]},"mark":"text","encoding":{"text":{"field":"t"}}}
]},
{"width":151,"height":143,"title":"September",
 "encoding":{"x":{"field":"x","type":"quantitative","scale":{"domain":[2.8,17.6],"nice":false,"zero":false},"axis":{"values":[5,10,15],"title":"Temperature (°C)","titlePadding":2}},"y":{"field":"y","type":"quantitative","scale":{"domain":[-0.2,4.6],"nice":false,"zero":false},"axis":null}},
 "layer":[
 {"data":{"name":"sepP"},"mark":"circle"},
 {"data":{"name":"sepF"},"mark":"area","encoding":{"y":{"field":"lo","type":"quantitative","axis":null},"y2":{"field":"hi"}}},
 {"data":{"name":"sepF"},"mark":"line"},
 {"data":{"values":[{"x":17.6,"y":4.38,"t":"r = 0.91"},{"x":17.6,"y":4.08,"t":"p < 0.001"}]},"mark":"text","encoding":{"text":{"field":"t"}}}
]},
{"width":151,"height":143,"title":"October",
 "encoding":{"x":{"field":"x","type":"quantitative","scale":{"domain":[5.375,7.62],"nice":false,"zero":false},"axis":{"values":[5.5,6,6.5,7,7.5],"format":".1f","title":null}},"y":{"field":"y","type":"quantitative","scale":{"domain":[-0.2,4.6],"nice":false,"zero":false},"axis":null}},
 "layer":[
 {"data":{"name":"octP"},"mark":"circle"},
 {"data":{"name":"octF"},"mark":"area","encoding":{"y":{"field":"lo","type":"quantitative","axis":null},"y2":{"field":"hi"}}},
 {"data":{"name":"octF"},"mark":"line"},
 {"data":{"values":[{"x":7.62,"y":4.38,"t":"r = 0.74"},{"x":7.62,"y":4.08,"t":"p < 0.001"}]},"mark":"text","encoding":{"text":{"field":"t"}}}
]}
]
}
